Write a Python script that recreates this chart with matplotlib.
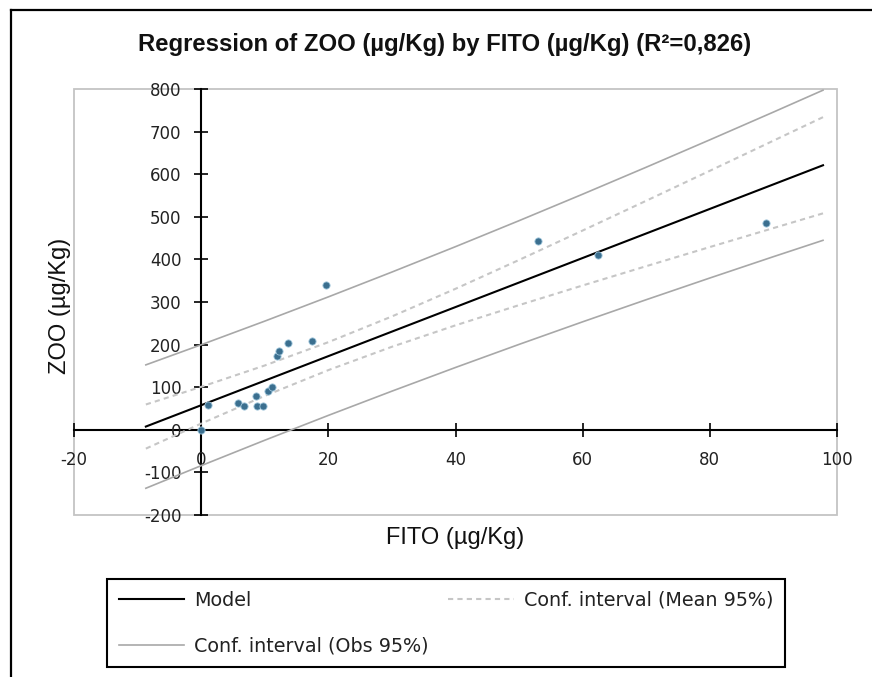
import matplotlib
matplotlib.use("Agg")
import matplotlib.pyplot as plt
from matplotlib.lines import Line2D
from matplotlib.patches import Rectangle

plt.rcParams["axes.unicode_minus"] = False

# ---- data ----
fito = [0, 1.0, 5.8, 6.7, 8.6, 8.8, 9.7, 10.5, 11.2, 12.0, 12.3, 13.7, 17.4, 19.7, 52.9, 62.4, 88.8]
zoo = [0, 59, 63, 57, 80, 57, 57, 90, 100, 174, 184, 204, 208, 340, 443, 411, 486]

curve_x = [-8.7, 0, 10, 20, 30, 40, 50, 60, 70, 80, 90, 97.8]
model_y = [7.6, 57.7, 115.3, 172.9, 230.5, 288.1, 345.7, 403.3, 460.9, 518.5, 576.1, 621.0]
mean_lo = [-44.2, 14.6, 79.6, 140.1, 194.9, 245.2, 292.7, 338.8, 384.1, 429.0, 473.5, 508.1]
mean_hi = [59.4, 100.8, 151.0, 205.7, 266.1, 331.0, 398.7, 467.8, 537.7, 608.0, 678.7, 733.9]
obs_lo = [-137.2, -84.2, -24.5, 33.8, 90.7, 146.3, 200.5, 253.5, 305.4, 356.3, 406.4, 444.8]
obs_hi = [152.4, 199.6, 255.1, 312.0, 370.3, 429.9, 490.9, 553.1, 616.4, 680.7, 745.8, 797.2]

x_ticks = [-20, 0, 20, 40, 60, 80, 100]
y_ticks = [-200, -100, 0, 100, 200, 300, 400, 500, 600, 700, 800]

title = "Regression of ZOO (µg/Kg) by FITO (µg/Kg) (R²=0,826)"
xlabel = "FITO (µg/Kg)"
ylabel = "ZOO (µg/Kg)"
legend_labels = ["Model", "Conf. interval (Obs 95%)", "Conf. interval (Mean 95%)"]

W, H = 872, 677
fig = plt.figure(figsize=(W / 100, H / 100), dpi=100)

# outer frame (chart object border)
fig.add_artist(Line2D([11 / W, 11 / W], [0, 1 - 10 / H], color="black", lw=1.6))
fig.add_artist(Line2D([11 / W, 1], [1 - 10 / H, 1 - 10 / H], color="black", lw=1.6))

left, right, top, bottom = 74, 837, 89, 515
ax = fig.add_axes([left / W, 1 - bottom / H, (right - left) / W, (bottom - top) / H])
ax.set_xlim(-20, 100)
ax.set_ylim(-200, 800)

# gray plot-area box
ax.add_patch(Rectangle((0, 0), 1, 1, transform=ax.transAxes, fill=False,
                       edgecolor="#c4c4c4", lw=1.3, clip_on=False, zorder=0))
for s in ["top", "right"]:
    ax.spines[s].set_visible(False)
ax.spines["left"].set_position(("data", 0))
ax.spines["bottom"].set_position(("data", 0))
for s in ["left", "bottom"]:
    ax.spines[s].set_color("black")
    ax.spines[s].set_linewidth(1.5)
    ax.spines[s].set_zorder(1)

ax.set_xticks(x_ticks)
ax.set_yticks(y_ticks)
ax.tick_params(axis="both", direction="inout", length=9.5, width=1.2, colors="black",
               labelsize=12, labelcolor="#222222")
ax.tick_params(axis="x", pad=10.5)
ax.tick_params(axis="y", pad=9.5)

# lines
l_obs, = ax.plot(curve_x, obs_lo, color="#a8a8a8", lw=1.2, zorder=2)
ax.plot(curve_x, obs_hi, color="#a8a8a8", lw=1.2, zorder=2)
l_mean, = ax.plot(curve_x, mean_lo, color="#c6c6c6", lw=1.5, ls=(0, (2.5, 2)), zorder=2)
ax.plot(curve_x, mean_hi, color="#c6c6c6", lw=1.5, ls=(0, (2.5, 2)), zorder=2)
l_model, = ax.plot(curve_x, model_y, color="black", lw=1.5, zorder=3)

ax.scatter(fito, zoo, s=27, color="#3b6f8f", edgecolors="#9fc6dc", linewidths=0.6, zorder=4)

fig.text(445 / W, 1 - 45 / H, title, ha="center", va="center", fontsize=17.2,
         fontweight="bold", family=["Liberation Sans", "DejaVu Sans"],
         color="#111111")

ax.set_xlabel(xlabel, fontsize=17, family=["Liberation Sans", "DejaVu Sans"], color="#111111")
ax.set_ylabel(ylabel, fontsize=17, family=["Liberation Sans", "DejaVu Sans"], color="#111111")
ax.xaxis.set_label_coords(0.5, -0.028)
ax.yaxis.set_label_coords(-0.004, 0.49)

leg = fig.legend([l_model, l_obs, l_mean], legend_labels, ncol=2, mode="expand",
                 loc="upper left",
                 bbox_to_anchor=(107 / W, 1 - 665 / H, (785 - 107) / W, (665 - 579) / H),
                 borderaxespad=0, frameon=True, fancybox=False, edgecolor="black",
                 fontsize=13.8, handlelength=3.44, handletextpad=0.52, borderpad=0.6,
                 labelspacing=1.4, framealpha=1)
leg.get_frame().set_linewidth(1.5)
for t in leg.get_texts():
    t.set_color("#222222")

fig.savefig("out.png", dpi=100)
